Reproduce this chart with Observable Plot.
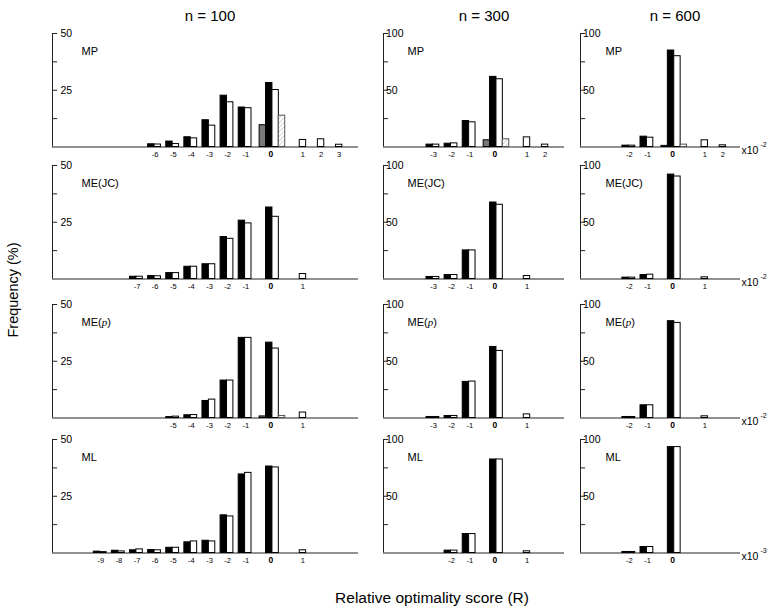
<!DOCTYPE html>
<html><head><meta charset="utf-8">
<script src="https://cdn.jsdelivr.net/npm/d3@7"></script>
<script src="https://cdn.jsdelivr.net/npm/@observablehq/plot@0.6"></script>
<style>
html,body{margin:0;padding:0;background:#fff;overflow:hidden}
#chart{position:relative;width:768px;height:614px;font-family:"Liberation Sans",Arial,sans-serif;color:#000}
.abs{position:absolute;white-space:nowrap;line-height:1}
</style></head><body><div id="chart"></div>
<script>
// ---------- data (percent of replicates) ----------
const sizes = ["n = 100", "n = 300", "n = 600"];
const methods = ["MP", "ME(JC)", "ME(p)", "ML"];
const exponents = ["-2", "-2", "-2", "-3"];
const yTicksSmall = [12.5, 25, 37.5, 50];
const yLabelsSmall = [25, 50];
const yTicksLarge = [25, 50, 75, 100];
const yLabelsLarge = [50, 100];

// rows: [R, series s1 (black), series s2 (white)]
const MP_100 = [[-6,1.2,1.1],[-5,2.4,1.3],[-4,4.3,3.8],[-3,11.8,9.4],[-2,22.6,19.7],[-1,17.4,17.1],[0,28.2,25.1],[1,0,3.1],[2,0,3.4],[3,0,1.0]];
const MP_300 = [[-3,2.1,2.1],[-2,2.9,3.2],[-1,22.9,21.8],[0,61.8,59.7],[1,0,8.5],[2,0,2.1]];
const MP_600 = [[-2,1.2,1.2],[-1,9.1,8.2],[0,85.0,80.0],[1,0,5.9],[2,0,1.5]];
const MEJC_100 = [[-7,1.0,1.0],[-6,1.3,1.2],[-5,2.6,2.6],[-4,5.4,5.4],[-3,6.5,6.5],[-2,18.5,17.7],[-1,25.7,24.5],[0,31.5,27.4],[1,0,2.2]];
const MEJC_300 = [[-3,1.8,1.8],[-2,3.5,3.5],[-1,25.2,25.2],[0,67.4,65.4],[1,0,2.6]];
const MEJC_600 = [[-2,1.2,1.2],[-1,3.5,3.8],[0,92.0,90.3],[1,0,1.5]];
const MEP_100 = [[-5,0.4,0.6],[-4,1.2,1.3],[-3,7.5,8.1],[-2,16.5,16.5],[-1,35.3,35.3],[0,33.2,30.6],[1,0,2.4]];
const MEP_300 = [[-3,0.9,0.9],[-2,1.8,1.8],[-1,31.8,32.1],[0,62.6,59.1],[1,0,3.2]];
const MEP_600 = [[-2,0.9,0.9],[-1,11.2,11.2],[0,85.3,83.8],[1,0,1.5]];
const ML_100 = [[-9,0.6,0.4],[-8,1.0,0.7],[-7,1.2,1.6],[-6,1.3,1.2],[-5,2.3,2.3],[-4,4.7,5.1],[-3,5.4,5.1],[-2,16.6,16.1],[-1,34.6,35.3],[0,38.1,37.7],[1,0,1.2]];
const ML_300 = [[-2,2.1,2.1],[-1,16.7,16.7],[0,82.4,82.4],[1,0,1.5]];
const ML_600 = [[-2,0.9,0.9],[-1,5.3,5.3],[0,93.3,93.3]];
// extra series at R = 0: [s3 (gray), s4 (hatched)]
const MP_100_zero = [9.6, 13.8];
const MP_300_zero = [5.9, 6.8];
const MP_600_zero = [1.0, 2.1];
const MEP_100_zero = [0.7, 0.9];

const panels = [
  [[MP_100, MP_100_zero], [MP_300, MP_300_zero], [MP_600, MP_600_zero]],
  [[MEJC_100, null], [MEJC_300, null], [MEJC_600, null]],
  [[MEP_100, MEP_100_zero], [MEP_300, null], [MEP_600, null]],
  [[ML_100, null], [ML_300, null], [ML_600, null]]
];

// ---------- layout ----------
const PX = 6.4, GAP = 0.83, GAP0 = 1.27;
const axisX = [52, 383, 580], rightX = [358, 564, 740], leftPad = [41.3, 43, 41.9];
const rowTop = [33.3, 165, 304, 439], innerH = 113.5;
const yLabDx = [8, 2.5, 2.5], nameDx = [29, 24, 25];
const FONT = '"Liberation Sans", Arial, sans-serif';

function layout(cats) {
  const pos = new Map(); let u = 0, prev = null;
  for (const c of cats) {
    if (prev !== null) u += (c === 0 || prev === 0) ? GAP0 : GAP;
    if (c === 0) { pos.set(c, {s3: u, s1: u + 1, s2: u + 2, s4: u + 3, label: u + 1.75}); u += 4; }
    else if (c < 0) { pos.set(c, {s1: u, s2: u + 1, label: u + 1.1}); u += 2; }
    else { pos.set(c, {s1: u, s2: u + 1, label: u + 1.5}); u += 2; }
    prev = c;
  }
  return pos;
}
const colLayouts = [0, 1, 2].map(c => {
  const cats = [...new Set(panels.flatMap(r => r[c][0].map(d => d[0])))].sort((a, b) => a - b);
  return layout(cats);
});

const chart = document.getElementById("chart");
chart.insertAdjacentHTML("beforeend",
  `<svg width="0" height="0" style="position:absolute"><defs>
   <pattern id="hatch" patternUnits="userSpaceOnUse" width="3.2" height="3.2" patternTransform="rotate(45)">
   <rect width="3.2" height="3.2" fill="white"/><line x1="0" y1="0" x2="0" y2="3.2" stroke="#a8a8a8" stroke-width="0.9"/></pattern></defs></svg>`);

const styles = {
  s1: {fill: "#000", stroke: "#000"},
  s2: {fill: "#fff", stroke: "#000"},
  s3: {fill: "#7a7a7a", stroke: "#000"},
  s4: {fill: "url(#hatch)", stroke: "#555"}
};

for (let row = 0; row < 4; row++) {
  for (let col = 0; col < 3; col++) {
    const [rows, zero] = panels[row][col];
    const pos = colLayouts[col];
    const table = [];
    for (const [R, a, b] of rows) {
      const p = pos.get(R);
      if (a > 0) table.push({R, series: "s1", value: a, x1: p.s1, x2: p.s1 + 1});
      if (b > 0) table.push({R, series: "s2", value: b, x1: p.s2, x2: p.s2 + 1});
    }
    if (zero) {
      const p = pos.get(0);
      if (zero[0] > 0) table.push({R: 0, series: "s3", value: zero[0], x1: p.s3, x2: p.s3 + 1});
      if (zero[1] > 0) table.push({R: 0, series: "s4", value: zero[1], x1: p.s4, x2: p.s4 + 1});
    }
    const innerW = rightX[col] - axisX[col];
    const xd = [-leftPad[col] / PX, (innerW - leftPad[col]) / PX];
    const ymax = col === 0 ? 50 : 100;
    const yt = col === 0 ? yTicksSmall : yTicksLarge;
    const yl = col === 0 ? yLabelsSmall : yLabelsLarge;
    const mL = 4, mR = col === 2 ? 27 : 6, mT = 10, mB = 22;
    const marks = [
      Plot.ruleY([0], {stroke: "#222"}),
      Plot.ruleX([xd[0]], {y1: 0, y2: ymax, stroke: "#222"}),
      Plot.ruleY(yt, {y: d => d, x1: xd[0], x2: xd[0] + 0.8, stroke: "#222"}),
      Plot.text(yl, {x: xd[0], y: d => d, text: d => String(d), textAnchor: "start", dx: yLabDx[col], fontSize: 10.5}),
      ...["s3", "s1", "s2", "s4"].map(s => Plot.rectY(table.filter(d => d.series === s),
        {x1: "x1", x2: "x2", y: "value", ...styles[s], strokeWidth: 1})),
      Plot.text(rows.filter(r => r[0] !== 0), {x: r => pos.get(r[0]).label, frameAnchor: "bottom", dy: 9.5,
        text: r => String(r[0]), fontSize: 7.5}),
      Plot.text(rows.filter(r => r[0] === 0), {x: r => pos.get(r[0]).label, frameAnchor: "bottom", dy: 10,
        text: r => String(r[0]), fontSize: 8.5, fontWeight: "bold"}),
      Plot.text([methods[row]], {frameAnchor: "top-left", dx: nameDx[col], dy: 14, textAnchor: "start",
        text: d => d, fontSize: 11})
    ];
    if (col === 2) {
      marks.push(Plot.text(["x10"], {frameAnchor: "bottom-right", dx: 1, dy: 7, textAnchor: "start", text: d => d, fontSize: 10.5}));
      marks.push(Plot.text([exponents[row]], {frameAnchor: "bottom-right", dx: 20, dy: 0, textAnchor: "start", text: d => d, fontSize: 7}));
    }
    const svg = Plot.plot({
      width: mL + innerW + mR, height: mT + innerH + mB,
      marginLeft: mL, marginRight: mR, marginTop: mT, marginBottom: mB,
      x: {type: "linear", domain: xd, axis: null},
      y: {domain: [0, ymax], axis: null},
      style: {fontFamily: FONT, background: "transparent", overflow: "visible", color: "#000"},
      marks
    });
    svg.querySelectorAll("text").forEach(t => {
      if (t.textContent === "ME(p)") {
        t.textContent = "";
        const ns = "http://www.w3.org/2000/svg";
        const a = document.createElementNS(ns, "tspan"); a.textContent = "ME(";
        const b = document.createElementNS(ns, "tspan"); b.textContent = "p";
        b.setAttribute("font-style", "italic"); b.setAttribute("font-family", '"Liberation Serif", serif');
        const c = document.createElementNS(ns, "tspan"); c.textContent = ")";
        t.append(a, b, c);
      }
    });
    svg.style.position = "absolute";
    svg.style.left = (axisX[col] - mL) + "px";
    svg.style.top = (rowTop[row] - mT) + "px";
    chart.appendChild(svg);
  }
}

// titles
const titleX = [210, 484, 675];
sizes.forEach((s, i) => {
  chart.insertAdjacentHTML("beforeend",
    `<div class="abs" style="left:${titleX[i]}px;top:15px;transform:translate(-50%,-50%);font-size:15px">${s}</div>`);
});
chart.insertAdjacentHTML("beforeend",
  `<div class="abs" style="left:13px;top:290px;transform:translate(-50%,-50%) rotate(-90deg);font-size:14.5px">Frequency (%)</div>`);
chart.insertAdjacentHTML("beforeend",
  `<div class="abs" style="left:432px;top:598px;transform:translate(-50%,-50%);font-size:15.5px">Relative optimality score (R)</div>`);
</script></body></html>
